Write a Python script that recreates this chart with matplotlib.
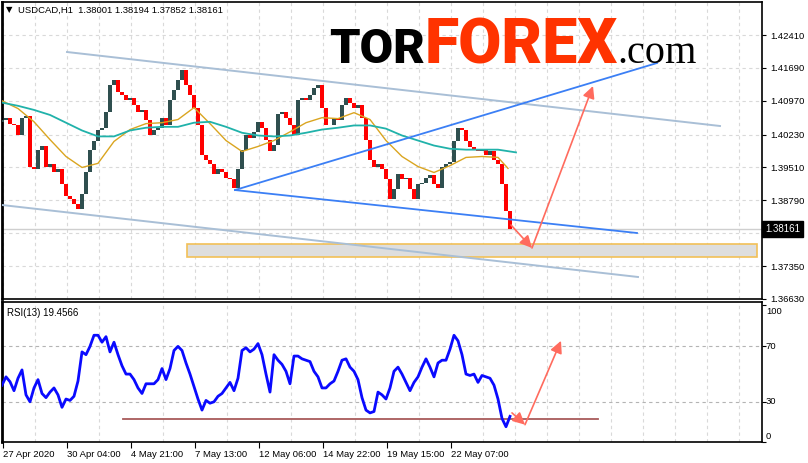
import numpy as np
import matplotlib.pyplot as plt
import matplotlib.transforms as mtransforms
from matplotlib.patches import Rectangle

# USDCAD H1, one close every 4 hourly bars (27 Apr - 22 May 2020)
first_open = 1.4050
closes = [
    1.4056, 1.4060, 1.4047, 1.4043, 1.4023, 1.4060, 1.4064, 1.3951, 1.3947, 1.3990,
    1.3997, 1.3951, 1.3958, 1.3942, 1.3947, 1.3914, 1.3888, 1.3881, 1.3870, 1.3859,
    1.3892, 1.3942, 1.3990, 1.4008, 1.4034, 1.4038, 1.4073, 1.4132, 1.4143, 1.4117,
    1.4110, 1.4099, 1.4104, 1.4088, 1.4073, 1.4077, 1.4056, 1.4023, 1.4034, 1.4038,
    1.4060, 1.4045, 1.4099, 1.4121, 1.4143, 1.4165, 1.4132, 1.4110, 1.4082, 1.4045,
    1.3979, 1.3968, 1.3958, 1.3936, 1.3947, 1.3942, 1.3929, 1.3925, 1.3907, 1.3947,
    1.3990, 1.4023, 1.4016, 1.4029, 1.4051, 1.4038, 1.4012, 1.3986, 1.4001, 1.4067,
    1.4073, 1.4060, 1.4045, 1.4023, 1.4099, 1.4104, 1.4099, 1.4110, 1.4125, 1.4132,
    1.4082, 1.4045, 1.4045, 1.4060, 1.4056, 1.4088, 1.4104, 1.4093, 1.4082, 1.4088,
    1.4060, 1.4012, 1.3968, 1.3951, 1.3958, 1.3947, 1.3925, 1.3881, 1.3903, 1.3936,
    1.3925, 1.3929, 1.3903, 1.3881, 1.3914, 1.3918, 1.3929, 1.3934, 1.3914, 1.3907,
    1.3951, 1.3958, 1.3964, 1.4008, 1.4038, 1.4034, 1.4008, 1.3995, 1.3990, 1.3986,
    1.3990, 1.3979, 1.3986, 1.3968, 1.3958, 1.3914, 1.3855, 1.3816,
]

# moving averages, one value every 16 bars (last point = line end)
ma_fast_t = [0, 16, 32, 48, 64, 80, 96, 112, 128, 144, 160, 176, 192, 208, 224, 240,
             256, 272, 288, 304, 320, 336, 352, 368, 384, 400, 416, 432, 448, 464, 480, 496, 506]
ma_fast = [1.4097, 1.4080, 1.4051, 1.4012, 1.3975, 1.3951, 1.3960, 1.4008, 1.4034, 1.4047,
           1.4049, 1.4056, 1.4082, 1.4047, 1.4010, 1.3986, 1.3997, 1.4010, 1.4029, 1.4049,
           1.4060, 1.4058, 1.4071, 1.4056, 1.4010, 1.3975, 1.3953, 1.3940, 1.3955, 1.3973,
           1.3975, 1.3973, 1.3949]
ma_slow_t = [0, 16, 32, 48, 64, 80, 96, 112, 128, 144, 160, 176, 192, 208, 224, 240,
             256, 272, 288, 304, 320, 336, 352, 368, 384, 400, 416, 432, 448, 464, 480, 496, 514]
ma_slow = [1.4093, 1.4086, 1.4077, 1.4066, 1.4049, 1.4032, 1.4019, 1.4019, 1.4032, 1.4038,
           1.4040, 1.4040, 1.4049, 1.4051, 1.4040, 1.4027, 1.4021, 1.4019, 1.4021, 1.4027,
           1.4034, 1.4038, 1.4043, 1.4043, 1.4036, 1.4021, 1.4010, 1.3999, 1.3992, 1.3990,
           1.3990, 1.3990, 1.3984]

# RSI(13), one value every 4 bars
rsi = [
    42, 48, 44.5, 38, 47, 53, 35, 30, 40, 46, 36, 33, 37, 40, 35, 26, 32, 31, 34, 45,
    66, 64, 70, 78, 78, 73, 77, 66, 73, 64, 56, 50, 50, 46, 40, 36, 43, 43, 43, 46,
    54, 46, 54, 67, 70, 67, 58, 50, 41, 32, 24, 31, 29, 30, 34, 36, 40, 44, 38, 47,
    67, 69, 66, 68, 72, 64, 50, 37, 64, 60, 57, 52, 43, 63, 63, 61, 60, 59, 52, 48,
    40, 40, 43, 45, 52, 60, 61, 55, 52, 46, 33, 24, 22, 23, 37, 35, 32, 40, 52, 55,
    50, 44, 38, 44, 48, 55, 61, 55, 48, 58, 60, 60, 68, 78, 74, 64, 50, 49, 50, 44,
    49, 48, 47, 42, 32, 18, 12, 19.5,
]

date_labels = ['27 Apr 2020', '30 Apr 04:00', '4 May 21:00', '7 May 13:00',
               '12 May 06:00', '14 May 22:00', '19 May 15:00', '22 May 07:00']
price_ticks = [1.42410, 1.41690, 1.40970, 1.40230, 1.39510, 1.38790, 1.38070, 1.37350, 1.36630]
last_price = 1.38161
rsi_level = 17.8

W, H = 808, 463
fig = plt.figure(figsize=(W / 100, H / 100), dpi=100)
fig.patch.set_facecolor('white')
plt.rcParams['font.family'] = ['Liberation Sans', 'DejaVu Sans']

ax = fig.add_axes([2 / W, 1 - 299 / H, 760 / W, 297 / H])
ax2 = fig.add_axes([2 / W, 1 - 442 / H, 760 / W, 140 / H])

grid_x = np.arange(1, 760, 32)
lab_x = np.arange(len(date_labels)) * 64 + 1
gridkw = dict(color='#d9d9d9', linestyle=(0, (3, 3)), linewidth=0.8)

for a in (ax, ax2):
    a.set_xlim(0, 760)
    a.set_xticks(grid_x, minor=True)
    a.grid(which='minor', axis='x', **gridkw)
    a.tick_params(which='minor', length=0)
    for s in a.spines.values():
        s.set_color('black')
        s.set_linewidth(1.2)
    a.spines['left'].set_linewidth(2)
    a.set_axisbelow(True)

# ---- price panel
t = np.arange(len(closes)) * 4
opens = np.array([first_open] + closes[:-1])
cl = np.array(closes)
cols = np.where(cl >= opens, '#2f4f4f', '#ff0000')
ax.bar(t, cl - opens, bottom=opens, width=3.4, color=cols, linewidth=0, zorder=3)

ax.plot(ma_fast_t, ma_fast, color='#daa520', lw=1, zorder=4)
ax.plot(ma_slow_t, ma_slow, color='#20b2aa', lw=1.3, zorder=4)

ax.set_ylim(1.3663, 1.43133)
ax.set_yticks(price_ticks)
ax.set_yticklabels(['%.5f' % p for p in price_ticks])
ax.yaxis.tick_right()
ax.tick_params(axis='y', length=3, pad=3, labelsize=6.8, color='black')
ax.set_xticks([])
ax.grid(axis='y', **gridkw)

ax.axhline(last_price, color='#cfcfcf', lw=1, zorder=1)

# channel and triangle lines
ax.plot([65, 718], [1.42038, 1.40418], color='#a9bfd6', lw=1.4, zorder=5)
ax.plot([0, 636], [1.38688, 1.37112], color='#a9bfd6', lw=1.4, zorder=5)
ax.plot([233, 655], [1.39016, 1.41797], color='#3b7ff5', lw=1.3, zorder=5)
ax.plot([233, 635], [1.39016, 1.38075], color='#3b7ff5', lw=1.3, zorder=5)

ax.add_patch(Rectangle((185, 1.3755), 570, 0.00284, facecolor='#dedede',
                       edgecolor='#f2c057', lw=1.2, zorder=2))

arrow = dict(arrowstyle='-|>', color='#ff6b5e', lw=1.2, mutation_scale=18,
             shrinkA=0, shrinkB=0)
ax.annotate('', xy=(530, 1.37747), xytext=(509, 1.38250), arrowprops=arrow, zorder=6)
ax.annotate('', xy=(591, 1.41293), xytext=(530, 1.37747), arrowprops=arrow, zorder=6)

trans = mtransforms.blended_transform_factory(ax.transAxes, ax.transData)
ax.text(1.004, last_price, '1.38161', transform=trans, va='center', ha='left',
        color='white', fontsize=7, zorder=10, clip_on=False,
        bbox=dict(boxstyle='square,pad=0.3', fc='black', ec='black'))

# ---- RSI panel
ax2.plot(np.arange(len(rsi)) * 4, rsi, color='#0a0aff', lw=2, zorder=4)
ax2.set_ylim(1, 102)
ax2.set_yticks([100, 70, 30, 1])
ax2.set_yticklabels([])
ax2.yaxis.tick_right()
ax2.tick_params(axis='y', length=3, color='black')
for v in (70, 30):
    ax2.axhline(v, color='#b4b4b4', linestyle=(0, (3, 3)), lw=0.8, zorder=1)
trans2 = mtransforms.blended_transform_factory(ax2.transAxes, ax2.transData)
for lab, v in [('100', 95.5), ('70', 70), ('30', 30), ('0', 5.3)]:
    ax2.text(1.005, v, lab, transform=trans2, va='center', ha='left', fontsize=6.8,
             clip_on=False)

ax2.plot([121, 596], [rsi_level, rsi_level], color='#a85a5a', lw=1.3, zorder=3)
ax2.annotate('', xy=(523, 13.5), xytext=(510, 22), arrowprops=arrow, zorder=6)
ax2.annotate('', xy=(559, 74), xytext=(523, 13.5), arrowprops=arrow, zorder=6)

ax2.set_xticks(lab_x)
ax2.set_xticklabels(date_labels, ha='left', fontsize=6.8)
ax2.tick_params(axis='x', length=4, pad=2, color='black')

# ---- texts
fig.text(6 / W, 1 - 10 / H, '\u25bc', fontsize=6, va='center', ha='left',
         family=['DejaVu Sans'])
fig.text(18 / W, 1 - 10 / H, 'USDCAD,H1  1.38001 1.38194 1.37852 1.38161',
         fontsize=6.8, va='center', ha='left')
fig.text(7 / W, 1 - 313 / H, 'RSI(13) 19.4566', fontsize=7, va='center', ha='left')

fig.text(329 / W, 1 - 63 / H, 'TOR', fontsize=35, weight='black', color='black',
         family=['Roboto', 'DejaVu Sans'], va='baseline', ha='left')
fig.text(425 / W, 1 - 63 / H, 'FOREX', fontsize=45, weight='black', color='#ff3300',
         family=['Roboto', 'DejaVu Sans'], va='baseline', ha='left')
fig.text(617 / W, 1 - 63 / H, '.com', fontsize=29, color='black',
         family=['Liberation Serif'], va='baseline', ha='left')

fig.savefig('out.png', dpi=100)
